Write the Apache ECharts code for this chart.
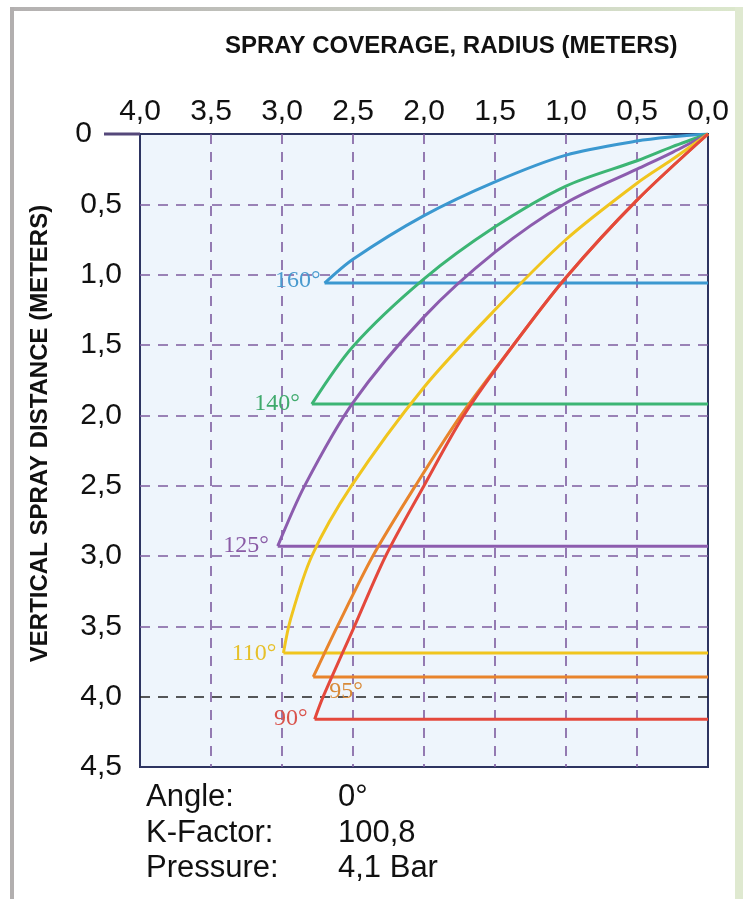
<!DOCTYPE html>
<html>
<head>
<meta charset="utf-8">
<script src="https://cdn.jsdelivr.net/npm/echarts@6/dist/echarts.min.js"></script>
<style>
  html, body { margin: 0; padding: 0; background: #fff; }
  #spray { width: 743px; height: 899px; }
</style>
</head>
<body>
<div id="spray"></div>
<script>
// spray angles and their envelope curves, [radius, distance] in meters
const angles = ['160', '140', '125', '110', '95', '90'];
const lineColors = ['#3b98d0', '#3cb574', '#8c5cae', '#f0c51e', '#e8842c', '#e4483c'];
const labelColors = ['#4a9bcf', '#3faa6c', '#8a5ca6', '#e6c02a', '#d88a38', '#d9534c'];

const curve160 = [[0, 0], [0.25, 0.02], [0.5, 0.05], [1.0, 0.15], [1.5, 0.34], [2.0, 0.58], [2.5, 0.89], [2.70, 1.06]];
const curve140 = [[0, 0], [0.25, 0.09], [0.5, 0.19], [1.0, 0.37], [1.5, 0.66], [2.0, 1.03], [2.5, 1.51], [2.79, 1.92]];
const curve125 = [[0, 0], [0.25, 0.13], [0.5, 0.25], [1.0, 0.49], [1.5, 0.84], [2.0, 1.30], [2.5, 1.91], [2.84, 2.50], [3.03, 2.93]];
const curve110 = [[0, 0], [0.25, 0.18], [0.5, 0.35], [1.0, 0.75], [1.5, 1.25], [2.0, 1.80], [2.51, 2.50], [2.79, 3.00], [2.94, 3.45], [2.99, 3.69]];
const curve95 = [[0, 0], [0.5, 0.47], [1.0, 1.02], [1.37, 1.50], [1.74, 2.00], [2.06, 2.50], [2.36, 3.00], [2.61, 3.50], [2.78, 3.86]];
const curve90 = [[0, 0], [0.5, 0.47], [1.0, 1.02], [1.37, 1.50], [1.72, 2.00], [2.00, 2.50], [2.27, 3.00], [2.49, 3.50], [2.71, 4.00], [2.77, 4.16]];
const curves = [curve160, curve140, curve125, curve110, curve95, curve90];

// axis ticks
const radiusTicks = ['0,0', '0,5', '1,0', '1,5', '2,0', '2,5', '3,0', '3,5', '4,0'];
const distanceTicks = ['0', '0,5', '1,0', '1,5', '2,0', '2,5', '3,0', '3,5', '4,0', '4,5'];

// parameters printed under the chart
const infoLabels = ['Angle:', 'K-Factor:', 'Pressure:'];
const infoValues = ['0°', '100,8', '4,1 Bar'];

// where each angle label sits next to the end of its curve
const labelPlace = [
  { position: 'left', distance: 4, offset: [0, -2] },
  { position: 'left', distance: 12, offset: [0, 0] },
  { position: 'left', distance: 9, offset: [0, 0] },
  { position: 'left', distance: 7, offset: [0, 1] },
  { position: 'right', distance: 16, offset: [0, 15] },
  { position: 'left', distance: 7, offset: [0, 0] }
];

const chart = echarts.init(document.getElementById('spray'), null, { renderer: 'canvas' });

const sans = "'Liberation Sans', Arial, sans-serif";
const gridPurple = '#7d5c9f';

const series = [];
curves.forEach((c, i) => {
  const end = c[c.length - 1];
  series.push({
    name: angles[i] + '°',
    type: 'line',
    data: c,
    smooth: 0.3,
    symbol: 'none',
    lineStyle: { color: lineColors[i], width: 3 },
    z: 3
  });
  series.push({
    name: angles[i] + '° base',
    type: 'line',
    data: [end, [0, end[1]]],
    symbol: 'none',
    lineStyle: { color: lineColors[i], width: 3 },
    z: 3,
    markPoint: {
      symbol: 'circle',
      symbolSize: 0,
      silent: true,
      data: [{ coord: end, value: angles[i] + '°' }],
      label: {
        show: true,
        formatter: '{c}',
        position: labelPlace[i].position,
        distance: labelPlace[i].distance,
        offset: labelPlace[i].offset,
        color: labelColors[i],
        fontFamily: "'Liberation Serif', 'Times New Roman', serif",
        fontSize: 24
      }
    }
  });
});

// edge lines transparent so the box border stays solid, 4,0 line black
const xSplitColors = radiusTicks.map((t, i) => (i === 0 || i === radiusTicks.length - 1) ? 'rgba(0,0,0,0)' : gridPurple);
const ySplitColors = distanceTicks.map((t, i) => {
  if (i === 0 || i === distanceTicks.length - 1) return 'rgba(0,0,0,0)';
  if (t === '4,0') return '#222';
  return gridPurple;
});

const graphics = [
  // frame around the picture
  { type: 'rect', shape: { x: 10, y: 7, width: 725, height: 4 },
    style: { fill: new echarts.graphic.LinearGradient(0, 0, 1, 0, [
      { offset: 0, color: '#b4b1b1' }, { offset: 0.6, color: '#c9cdc2' }, { offset: 1, color: '#dbe7cc' }]) }, z: 0 },
  { type: 'rect', shape: { x: 10, y: 7, width: 4, height: 892 }, style: { fill: '#b2afaf' }, z: 0 },
  { type: 'rect', shape: { x: 735, y: 7, width: 8, height: 892 }, style: { fill: '#dfe9d0' }, z: 0 },
  // stub of the top line next to the 0 label
  { type: 'line', shape: { x1: 104, y1: 134, x2: 140, y2: 134 }, style: { stroke: '#55487a', lineWidth: 3 }, z: 5 }
];
infoLabels.forEach((t, i) => {
  graphics.push({ type: 'text', left: 146, top: 782 + i * 35.5,
    style: { text: t, font: '31px ' + sans, fill: '#111' } });
  graphics.push({ type: 'text', left: 338, top: 782 + i * 35.5,
    style: { text: infoValues[i], font: '31px ' + sans, fill: '#111' } });
});

const option = {
  backgroundColor: '#ffffff',
  animation: false,
  title: {
    text: 'SPRAY COVERAGE, RADIUS (METERS)',
    left: 220,
    top: 29,
    textStyle: { fontFamily: sans, fontWeight: 'bold', fontSize: 24, color: '#111' }
  },
  grid: {
    left: 140,
    right: 35,
    top: 134,
    bottom: 132,
    show: true,
    backgroundColor: '#eef5fc',
    borderColor: '#2d3461',
    borderWidth: 2
  },
  xAxis: {
    type: 'value',
    position: 'top',
    inverse: true,
    min: 0,
    max: 4,
    interval: 0.5,
    axisLine: { show: false },
    axisTick: { show: false },
    axisLabel: {
      margin: 7,
      color: '#111',
      fontFamily: sans,
      fontSize: 30,
      formatter: (v) => radiusTicks[Math.round(v / 0.5)]
    },
    splitLine: {
      show: true,
      lineStyle: { color: xSplitColors, width: 1.6, type: [10, 8] }
    }
  },
  yAxis: {
    type: 'value',
    inverse: true,
    min: 0,
    max: 4.5,
    interval: 0.5,
    name: 'VERTICAL SPRAY DISTANCE (METERS)',
    nameLocation: 'middle',
    nameRotate: 90,
    nameGap: 88,
    nameTextStyle: { fontFamily: sans, fontWeight: 'bold', fontSize: 24, color: '#111', padding: [0, 0, 0, 34] },
    axisLine: { show: false },
    axisTick: { show: false },
    axisLabel: {
      margin: 18,
      color: '#111',
      fontFamily: sans,
      fontSize: 30,
      formatter: (v) => {
        const t = distanceTicks[Math.round(v / 0.5)];
        return t === '0' ? '{z|0}' : t;
      },
      rich: { z: { fontFamily: sans, fontSize: 30, color: '#111', padding: [0, 30, 0, 0] } }
    },
    splitLine: {
      show: true,
      lineStyle: { color: ySplitColors, width: 1.6, type: [10, 8] }
    }
  },
  graphic: graphics,
  series: series
};

chart.setOption(option);
</script>
</body>
</html>
